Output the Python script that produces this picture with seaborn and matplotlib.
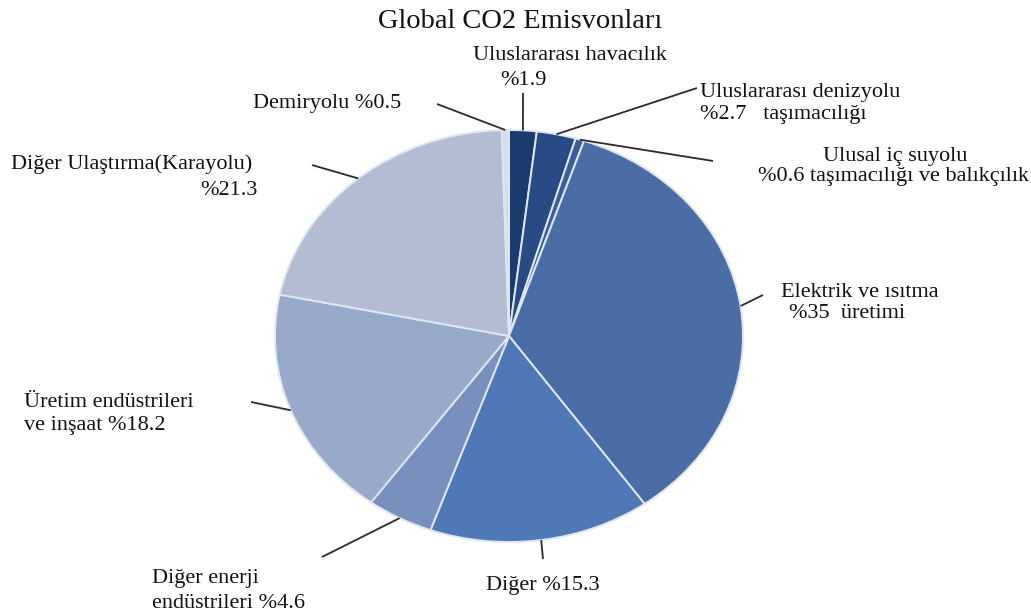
import matplotlib
matplotlib.use("Agg")
import matplotlib.pyplot as plt
import seaborn as sns
import numpy as np

# Sector shares of global CO2 emissions (%)
sectors = [
    "Uluslararası havacılık",
    "Uluslararası denizyolu taşımacılığı",
    "Ulusal iç suyolu taşımacılığı ve balıkçılık",
    "Elektrik ve ısıtma üretimi",
    "Diğer",
    "Diğer enerji endüstrileri",
    "Üretim endüstrileri ve inşaat",
    "Diğer Ulaştırma(Karayolu)",
    "Demiryolu",
]
shares = [1.9, 2.7, 0.6, 35.0, 15.3, 4.6, 18.2, 21.3, 0.5]
share_labels = ["%1.9", "%2.7", "%0.6", "%35", "%15.3", "%4.6", "%18.2", "%21.3", "%0.5"]

slice_colors = ["#1b3a6d", "#284b86", "#3b5e9b", "#4a6da6", "#4f79b6",
                "#7990bf", "#98a9c9", "#b2bdd3", "#d6dce9"]

sns.set_theme(style="white")
plt.rcParams["font.family"] = ["Liberation Serif", "DejaVu Serif"]

W, H = 1031, 615
CX, CY = 509, 336     # pie centre in pixels
RX, RY = 234, 206     # horizontal / vertical radius in pixels

fig = plt.figure(figsize=(W / 100, H / 100), dpi=100)
ax = fig.add_axes([0, 0, 1, 1])

wedges, _ = ax.pie(
    shares,
    colors=slice_colors,
    startangle=90,
    counterclock=False,
    radius=1.0,
    center=(0, 0),
    wedgeprops=dict(edgecolor="#dde6f3", linewidth=1.4),
)
ax.set_aspect("auto")
ax.set_xlim(-CX / RX, (W - CX) / RX)
ax.set_ylim(-(H - CY) / RY, CY / RY)
ax.axis("off")


def px(x, y):
    """Pixel position (from top-left) to data coordinates."""
    return (x - CX) / RX, (CY - y) / RY


def rim_point(w):
    mid = np.deg2rad((w.theta1 + w.theta2) / 2)
    return np.cos(mid), np.sin(mid)


# Title
ax.text(*px(520, 28), "Global CO2 Emisvonları", ha="center", va="baseline",
        fontsize=20.5, color="#111111")

# Leader line end points near the text (pixels)
line_ends = [
    (523, 93),   # havacılık
    (697, 88),   # denizyolu
    (713, 161),  # iç suyolu
    (763, 295),  # elektrik
    (543, 559),  # diğer
    (322, 557),  # diğer enerji
    (251, 402),  # üretim
    (312, 165),  # karayolu
    (437, 104),  # demiryolu
]
for w, end in zip(wedges, line_ends):
    ax.plot(*zip(rim_point(w), px(*end)), color="#2b2b2b", lw=1.3,
            solid_capstyle="butt", zorder=3)

fs = 16
txt = dict(fontsize=fs, color="#111111", va="baseline")

ax.text(*px(570, 60), "Uluslararası havacılık", ha="center", **txt)
ax.text(*px(523, 85), share_labels[0], ha="center", **txt)

ax.text(*px(700, 97), "Uluslararası denizyolu", ha="left", **txt)
ax.text(*px(700, 119), share_labels[1] + "   taşımacılığı", ha="left", **txt)

ax.text(*px(895, 161), "Ulusal iç suyolu", ha="center", **txt)
ax.text(*px(1029, 181), share_labels[2] + " taşımacılığı ve balıkçılık", ha="right", **txt)

ax.text(*px(781, 297), "Elektrik ve ısıtma", ha="left", **txt)
ax.text(*px(789, 318), share_labels[3] + "  üretimi", ha="left", **txt)

ax.text(*px(486, 590), "Diğer " + share_labels[4], ha="left", **txt)

ax.text(*px(152, 583), "Diğer enerji", ha="left", **txt)
ax.text(*px(152, 608), "endüstrileri " + share_labels[5], ha="left", **txt)

ax.text(*px(24, 407), "Üretim endüstrileri", ha="left", **txt)
ax.text(*px(24, 430), "ve inşaat " + share_labels[6], ha="left", **txt)

ax.text(*px(11, 169), "Diğer Ulaştırma(Karayolu)", ha="left", **txt)
ax.text(*px(229, 195), share_labels[7], ha="center", **txt)

ax.text(*px(253, 108), "Demiryolu " + share_labels[8], ha="left", **txt)

fig.savefig("out.png", dpi=100, facecolor="white")
